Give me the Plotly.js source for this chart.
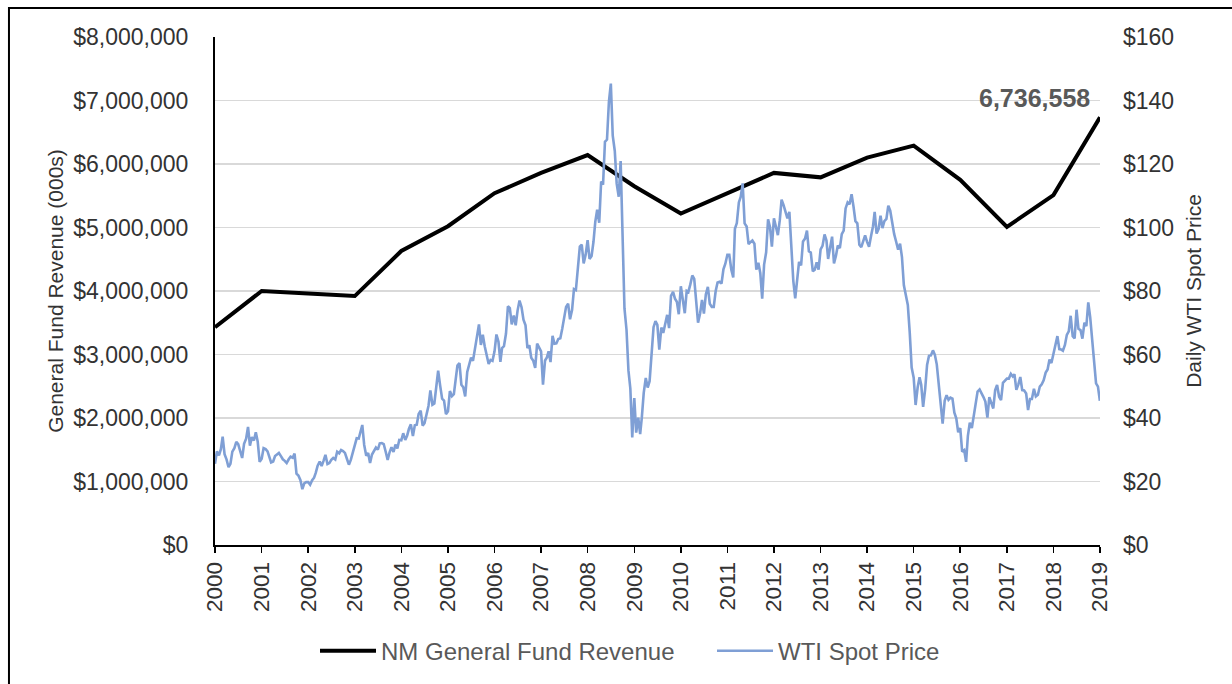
<!DOCTYPE html>
<html>
<head>
<meta charset="utf-8">
<script src="https://cdn.plot.ly/plotly-3.0.1.min.js"></script>
<style>
  html, body { margin: 0; padding: 0; background: #ffffff; }
  #chart { width: 1232px; height: 684px; }
</style>
</head>
<body>
<div id="chart"></div>
<script>
// ---------------- DATA ----------------
const revYears = ["2000","2001","2002","2003","2004","2005","2006","2007","2008","2009",
                  "2010","2011","2012","2013","2014","2015","2016","2017","2018","2019"];
const revenue = [3430000, 4000000, 3960000, 3920000, 4630000, 5020000, 5540000, 5860000, 6140000, 5650000,
                 5220000, 5540000, 5860000, 5790000, 6100000, 6290000, 5750000, 5010000, 5510000, 6736558];

const yearTicks = ["2000","2001","2002","2003","2004","2005","2006","2007","2008","2009",
                   "2010","2011","2012","2013","2014","2015","2016","2017","2018","2019"];

const wti2000 = [25.6, 29.5, 28.2, 30.2, 34.1, 28.6, 26.9, 24.5, 25.6, 29.4, 30.5, 32.5, 31.8, 30.0, 27.4, 31.9, 33.5, 37.2, 31.3, 34.0, 32.9, 35.5, 32.5, 26.2];
const wti2001 = [27.2, 30.5, 30.2, 29.5, 27.5, 26.0, 26.3, 28.0, 28.5, 29.0, 28.0, 27.0, 26.5, 25.8, 27.0, 27.8, 27.5, 28.8, 22.5, 21.9, 20.4, 17.6, 19.4, 19.8];
const wti2002 = [19.8, 19.0, 20.4, 21.2, 22.7, 25.0, 26.3, 24.9, 26.5, 28.4, 25.5, 25.8, 26.8, 27.4, 26.9, 29.4, 28.9, 29.9, 29.6, 29.0, 27.1, 25.3, 26.8, 29.1];
const wti2003 = [31.2, 33.6, 33.5, 36.0, 37.8, 31.5, 28.1, 29.0, 25.8, 28.5, 29.5, 30.7, 30.0, 32.0, 32.1, 31.8, 29.3, 26.8, 29.2, 30.8, 29.3, 31.6, 30.4, 33.1];
const wti2004 = [33.0, 35.2, 33.1, 34.5, 36.6, 38.0, 34.3, 37.7, 37.9, 41.3, 42.3, 37.6, 38.4, 41.2, 43.8, 48.7, 44.2, 44.6, 49.6, 54.9, 50.1, 46.1, 45.5, 41.2];
const wti2005 = [42.1, 48.5, 46.9, 47.5, 51.7, 56.5, 57.3, 50.5, 49.7, 46.8, 54.5, 56.6, 59.0, 58.0, 61.6, 66.3, 69.5, 63.0, 66.2, 62.6, 59.8, 57.0, 58.3, 58.0];
const wti2006 = [61.0, 66.3, 64.0, 57.7, 62.0, 62.6, 66.6, 75.2, 74.6, 69.5, 72.3, 69.2, 73.9, 77.0, 74.9, 71.0, 69.2, 62.0, 62.9, 59.0, 58.0, 55.8, 63.4, 62.2];
const wti2007 = [61.0, 50.5, 58.1, 59.1, 61.0, 57.6, 65.9, 63.4, 63.5, 64.9, 65.1, 68.1, 71.1, 75.0, 76.0, 71.1, 74.0, 80.6, 80.3, 87.6, 94.0, 94.6, 88.7, 91.3];
const wti2008 = [96.0, 90.1, 91.0, 95.5, 101.8, 105.6, 101.5, 114.5, 113.5, 127.0, 127.7, 139.6, 145.3, 128.9, 124.1, 113.8, 109.7, 120.9, 93.0, 74.5, 67.8, 55.0, 49.3, 33.9];
const wti2009 = [46.3, 35.4, 40.1, 34.9, 40.1, 47.9, 52.6, 49.6, 51.6, 59.0, 68.6, 70.5, 69.3, 61.5, 68.5, 66.8, 70.0, 72.5, 68.3, 78.5, 79.7, 77.6, 76.6, 72.7];
const wti2010 = [81.5, 77.6, 73.0, 80.0, 79.7, 82.0, 84.9, 83.8, 75.6, 70.0, 72.9, 77.2, 72.9, 78.9, 81.3, 76.0, 75.0, 75.0, 79.9, 82.7, 82.9, 82.3, 86.8, 88.6];
const wti2011 = [91.4, 91.4, 86.7, 84.3, 99.6, 101.4, 107.9, 109.7, 113.9, 101.3, 100.3, 94.8, 95.4, 95.9, 94.9, 86.7, 88.9, 85.7, 77.6, 88.3, 92.2, 102.6, 100.2, 94.0];
const wti2012 = [102.9, 100.7, 97.6, 102.3, 108.8, 107.1, 105.2, 102.9, 104.9, 92.8, 83.2, 77.7, 83.8, 89.2, 88.1, 95.6, 96.5, 99.0, 92.5, 92.1, 86.2, 86.7, 89.0, 86.7];
const wti2013 = [93.1, 94.2, 97.8, 95.9, 90.1, 93.1, 97.1, 88.7, 91.0, 94.3, 93.5, 97.9, 99.0, 106.0, 107.9, 107.3, 110.5, 106.6, 102.0, 101.3, 94.6, 93.8, 95.8, 97.5];
const wti2014 = [95.4, 93.9, 97.4, 100.4, 104.9, 98.1, 99.6, 103.7, 99.8, 102.0, 102.7, 106.9, 105.3, 101.2, 97.9, 95.6, 93.0, 94.9, 90.7, 81.8, 78.7, 75.6, 66.9, 55.9];
const wti2015 = [52.7, 44.1, 49.6, 52.8, 50.5, 43.5, 49.1, 56.7, 59.6, 59.7, 61.3, 59.9, 56.9, 50.9, 45.2, 38.2, 45.4, 47.2, 45.7, 46.4, 46.1, 41.7, 39.9, 35.5];
const wti2016 = [36.8, 29.4, 29.9, 26.2, 34.4, 38.5, 36.8, 40.4, 43.7, 48.3, 49.0, 48.0, 46.6, 45.2, 40.1, 46.6, 44.4, 43.0, 48.8, 50.4, 46.7, 45.6, 51.1, 51.9];
const wti2017 = [52.4, 52.4, 53.9, 53.1, 53.8, 48.9, 50.6, 52.9, 48.8, 48.7, 47.7, 42.5, 46.0, 46.0, 49.2, 46.8, 47.3, 49.9, 50.6, 51.9, 54.3, 55.3, 58.4, 57.3];
const wti2018 = [60.4, 63.7, 65.8, 61.7, 61.6, 61.2, 63.0, 66.2, 67.3, 72.2, 65.8, 65.1, 74.1, 68.1, 67.7, 65.0, 70.0, 68.9, 76.4, 71.8, 63.7, 56.5, 50.9, 49.9];
const wtiLastDate = "2018-12-31";
const wtiLast = 45.4;

// ---------------- BUILD ----------------
const wtiByYear = [wti2000, wti2001, wti2002, wti2003, wti2004, wti2005, wti2006, wti2007, wti2008, wti2009,
                   wti2010, wti2011, wti2012, wti2013, wti2014, wti2015, wti2016, wti2017, wti2018];
const sampleDays = ["01", "16"];
const wtiX = [], wtiY = [];
wtiByYear.forEach((vals, yi) => {
  const yr = 2000 + yi;
  vals.forEach((v, i) => {
    const m = String(Math.floor(i / 2) + 1).padStart(2, "0");
    wtiX.push(`${yr}-${m}-${sampleDays[i % 2]}`);
    wtiY.push(v);
  });
});
wtiX.push(wtiLastDate);
wtiY.push(wtiLast);

const revX = revYears.map(y => `${y}-01-01`);

const FONT = '"Liberation Sans", Arial, Helvetica, sans-serif';

const traces = [
  {
    type: "scatter", mode: "lines",
    name: "NM General Fund Revenue",
    x: revX, y: revenue,
    line: { color: "#000000", width: 4 },
    xaxis: "x", yaxis: "y",
    hoverinfo: "skip"
  },
  {
    type: "scatter", mode: "lines",
    name: "WTI Spot Price",
    x: wtiX, y: wtiY,
    line: { color: "#7F9FD5", width: 2.6 },
    xaxis: "x", yaxis: "y2",
    hoverinfo: "skip"
  }
];

const layout = {
  width: 1232, height: 684,
  margin: { l: 215, r: 132, t: 37, b: 139, pad: 0, autoexpand: false },
  paper_bgcolor: "#ffffff",
  plot_bgcolor: "#ffffff",
  font: { family: FONT, color: "#333333", size: 22 },
  showlegend: true,
  legend: {
    orientation: "h",
    x: 0.113, xanchor: "left",
    y: -0.209, yanchor: "middle",
    font: { family: FONT, size: 24, color: "#595959" },
    itemwidth: 56,
    entrywidth: 326,
    bgcolor: "rgba(0,0,0,0)"
  },
  xaxis: {
    type: "date",
    range: ["2000-01-01", "2019-01-01"],
    tickmode: "array",
    tickvals: yearTicks.map(y => `${y}-01-01`),
    ticktext: yearTicks,
    tickangle: -90,
    ticks: "outside", ticklen: 6, tickwidth: 1.5, tickcolor: "#000000",
    showline: true, linecolor: "#000000", linewidth: 2,
    showgrid: false, zeroline: false,
    tickfont: { family: FONT, size: 22.5, color: "#333333" }
  },
  yaxis: {
    range: [0, 8000000],
    tickmode: "linear", tick0: 0, dtick: 1000000,
    tickprefix: "$", tickformat: ",d",
    showline: true, linecolor: "#000000", linewidth: 2,
    showgrid: true, gridcolor: "#d9d9d9", gridwidth: 1.5,
    zeroline: false,
    ticks: "", ticklabelstandoff: 20,
    tickfont: { family: FONT, size: 23, color: "#333333" },
    title: { text: "General Fund Revenue (000s)", font: { family: FONT, size: 21, color: "#333333" }, standoff: 4 }
  },
  yaxis2: {
    range: [0, 160],
    tickmode: "linear", tick0: 0, dtick: 20,
    tickprefix: "$", tickformat: ",d",
    overlaying: "y", side: "right",
    showline: false, showgrid: false, zeroline: false,
    ticks: "", ticklabelstandoff: 22,
    tickfont: { family: FONT, size: 23, color: "#333333" },
    title: { text: "Daily WTI Spot Price", font: { family: FONT, size: 21, color: "#333333" }, standoff: 13 }
  },
  annotations: [
    {
      x: revX[revX.length - 1], y: revenue[revenue.length - 1],
      xref: "x", yref: "y",
      text: "<b>" + revenue[revenue.length - 1].toLocaleString("en-US") + "</b>",
      showarrow: false,
      xanchor: "right", yanchor: "bottom",
      xshift: -8, yshift: 3,
      font: { family: FONT, size: 25, color: "#595959" }
    }
  ],
  shapes: [
    {
      type: "rect", xref: "paper", yref: "paper",
      x0: -0.2328, x1: 1.25, y0: -0.35, y1: 1.0571,
      line: { color: "#000000", width: 2 },
      fillcolor: "rgba(0,0,0,0)",
      layer: "below"
    }
  ]
};

Plotly.newPlot("chart", traces, layout, { displayModeBar: false, staticPlot: true });
</script>
</body>
</html>
